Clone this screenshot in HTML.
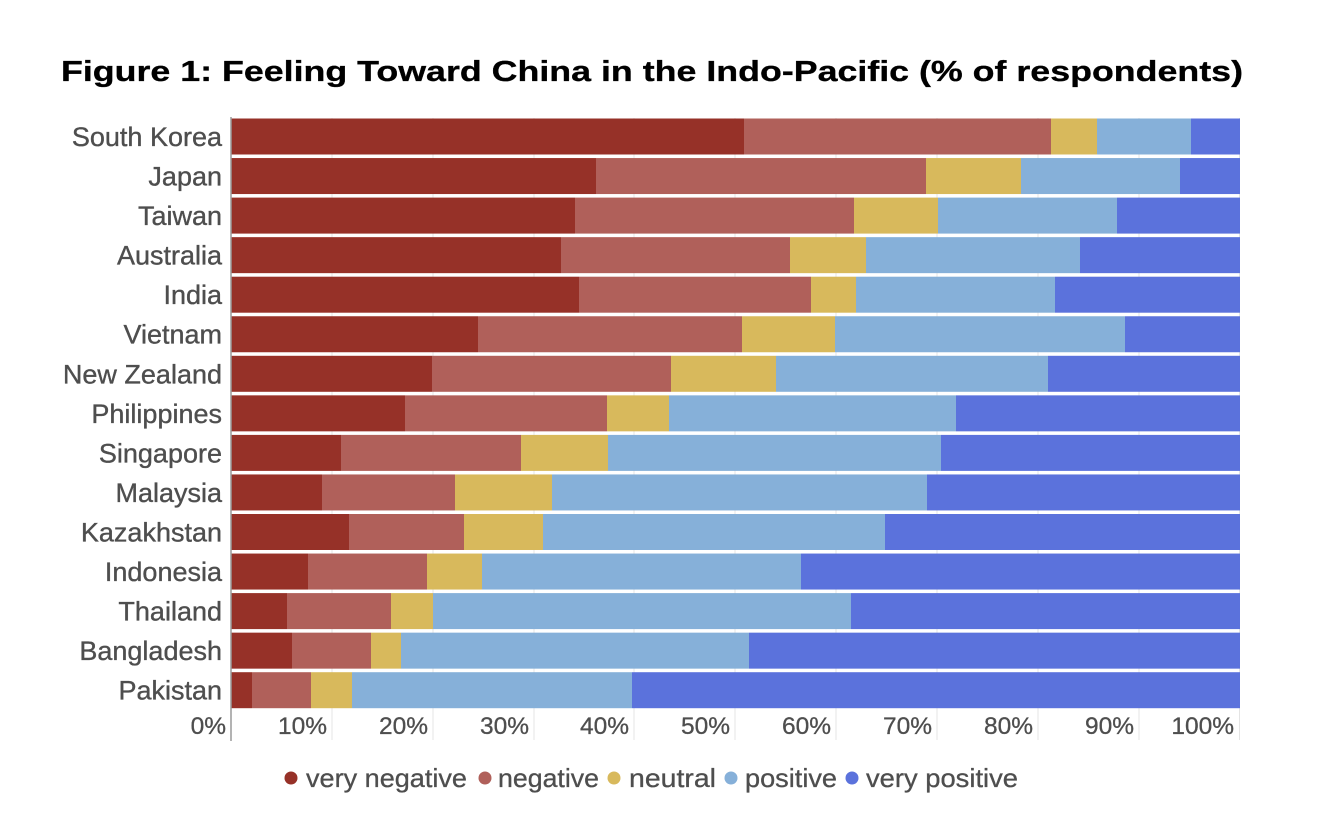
<!DOCTYPE html>
<html>
<head>
<meta charset="utf-8">
<style>
html,body{margin:0;padding:0;background:#fff;}
svg{display:block;}
text{font-family:"Liberation Sans",Arial,sans-serif;}
</style>
</head>
<body>
<svg width="1322" height="815" viewBox="0 0 1322 815" xmlns="http://www.w3.org/2000/svg">
<rect x="0" y="0" width="1322" height="815" fill="#fff"/>
<text x="61" y="81" font-size="28.5" font-weight="bold" fill="#000" stroke="#000" stroke-width="0.3" textLength="1182" lengthAdjust="spacingAndGlyphs">Figure 1: Feeling Toward China in the Indo-Pacific (% of respondents)</text>

<!-- gridlines -->
<g stroke="#e4e4e4" stroke-width="1">
<line x1="332" y1="118" x2="332" y2="740"/>
<line x1="433" y1="118" x2="433" y2="740"/>
<line x1="534" y1="118" x2="534" y2="740"/>
<line x1="634" y1="118" x2="634" y2="740"/>
<line x1="735" y1="118" x2="735" y2="740"/>
<line x1="836" y1="118" x2="836" y2="740"/>
<line x1="937" y1="118" x2="937" y2="740"/>
<line x1="1038" y1="118" x2="1038" y2="740"/>
<line x1="1139" y1="118" x2="1139" y2="740"/>
<line x1="1239.5" y1="118" x2="1239.5" y2="740"/>
</g>

<!-- bars -->
<g>
<!-- South Korea -->
<rect x="231" y="118.5" width="513" height="36" fill="#963128"/>
<rect x="744" y="118.5" width="307" height="36" fill="#b0605a"/>
<rect x="1051" y="118.5" width="46" height="36" fill="#d8b95c"/>
<rect x="1097" y="118.5" width="94" height="36" fill="#86b0d9"/>
<rect x="1191" y="118.5" width="49" height="36" fill="#5b72dc"/>
<!-- Japan -->
<rect x="231" y="158.05" width="365" height="36" fill="#963128"/>
<rect x="596" y="158.05" width="330" height="36" fill="#b0605a"/>
<rect x="926" y="158.05" width="95" height="36" fill="#d8b95c"/>
<rect x="1021" y="158.05" width="159" height="36" fill="#86b0d9"/>
<rect x="1180" y="158.05" width="60" height="36" fill="#5b72dc"/>
<!-- Taiwan -->
<rect x="231" y="197.6" width="344" height="36" fill="#963128"/>
<rect x="575" y="197.6" width="279" height="36" fill="#b0605a"/>
<rect x="854" y="197.6" width="84" height="36" fill="#d8b95c"/>
<rect x="938" y="197.6" width="179" height="36" fill="#86b0d9"/>
<rect x="1117" y="197.6" width="123" height="36" fill="#5b72dc"/>
<!-- Australia -->
<rect x="231" y="237.15" width="330" height="36" fill="#963128"/>
<rect x="561" y="237.15" width="229" height="36" fill="#b0605a"/>
<rect x="790" y="237.15" width="76" height="36" fill="#d8b95c"/>
<rect x="866" y="237.15" width="214" height="36" fill="#86b0d9"/>
<rect x="1080" y="237.15" width="160" height="36" fill="#5b72dc"/>
<!-- India -->
<rect x="231" y="276.7" width="348" height="36" fill="#963128"/>
<rect x="579" y="276.7" width="232" height="36" fill="#b0605a"/>
<rect x="811" y="276.7" width="45" height="36" fill="#d8b95c"/>
<rect x="856" y="276.7" width="199" height="36" fill="#86b0d9"/>
<rect x="1055" y="276.7" width="185" height="36" fill="#5b72dc"/>
<!-- Vietnam -->
<rect x="231" y="316.25" width="247" height="36" fill="#963128"/>
<rect x="478" y="316.25" width="264" height="36" fill="#b0605a"/>
<rect x="742" y="316.25" width="93" height="36" fill="#d8b95c"/>
<rect x="835" y="316.25" width="290" height="36" fill="#86b0d9"/>
<rect x="1125" y="316.25" width="115" height="36" fill="#5b72dc"/>
<!-- New Zealand -->
<rect x="231" y="355.8" width="201" height="36" fill="#963128"/>
<rect x="432" y="355.8" width="239" height="36" fill="#b0605a"/>
<rect x="671" y="355.8" width="105" height="36" fill="#d8b95c"/>
<rect x="776" y="355.8" width="272" height="36" fill="#86b0d9"/>
<rect x="1048" y="355.8" width="192" height="36" fill="#5b72dc"/>
<!-- Philippines -->
<rect x="231" y="395.35" width="174" height="36" fill="#963128"/>
<rect x="405" y="395.35" width="202" height="36" fill="#b0605a"/>
<rect x="607" y="395.35" width="62" height="36" fill="#d8b95c"/>
<rect x="669" y="395.35" width="287" height="36" fill="#86b0d9"/>
<rect x="956" y="395.35" width="284" height="36" fill="#5b72dc"/>
<!-- Singapore -->
<rect x="231" y="434.9" width="110" height="36" fill="#963128"/>
<rect x="341" y="434.9" width="180" height="36" fill="#b0605a"/>
<rect x="521" y="434.9" width="87" height="36" fill="#d8b95c"/>
<rect x="608" y="434.9" width="333" height="36" fill="#86b0d9"/>
<rect x="941" y="434.9" width="299" height="36" fill="#5b72dc"/>
<!-- Malaysia -->
<rect x="231" y="474.45" width="91" height="36" fill="#963128"/>
<rect x="322" y="474.45" width="133" height="36" fill="#b0605a"/>
<rect x="455" y="474.45" width="97" height="36" fill="#d8b95c"/>
<rect x="552" y="474.45" width="375" height="36" fill="#86b0d9"/>
<rect x="927" y="474.45" width="313" height="36" fill="#5b72dc"/>
<!-- Kazakhstan -->
<rect x="231" y="514" width="118" height="36" fill="#963128"/>
<rect x="349" y="514" width="115" height="36" fill="#b0605a"/>
<rect x="464" y="514" width="79" height="36" fill="#d8b95c"/>
<rect x="543" y="514" width="342" height="36" fill="#86b0d9"/>
<rect x="885" y="514" width="355" height="36" fill="#5b72dc"/>
<!-- Indonesia -->
<rect x="231" y="553.55" width="77" height="36" fill="#963128"/>
<rect x="308" y="553.55" width="119" height="36" fill="#b0605a"/>
<rect x="427" y="553.55" width="55" height="36" fill="#d8b95c"/>
<rect x="482" y="553.55" width="319" height="36" fill="#86b0d9"/>
<rect x="801" y="553.55" width="439" height="36" fill="#5b72dc"/>
<!-- Thailand -->
<rect x="231" y="593.1" width="56" height="36" fill="#963128"/>
<rect x="287" y="593.1" width="104" height="36" fill="#b0605a"/>
<rect x="391" y="593.1" width="42" height="36" fill="#d8b95c"/>
<rect x="433" y="593.1" width="418" height="36" fill="#86b0d9"/>
<rect x="851" y="593.1" width="389" height="36" fill="#5b72dc"/>
<!-- Bangladesh -->
<rect x="231" y="632.65" width="61" height="36" fill="#963128"/>
<rect x="292" y="632.65" width="79" height="36" fill="#b0605a"/>
<rect x="371" y="632.65" width="30" height="36" fill="#d8b95c"/>
<rect x="401" y="632.65" width="348" height="36" fill="#86b0d9"/>
<rect x="749" y="632.65" width="491" height="36" fill="#5b72dc"/>
<!-- Pakistan -->
<rect x="231" y="672.2" width="21" height="36" fill="#963128"/>
<rect x="252" y="672.2" width="59" height="36" fill="#b0605a"/>
<rect x="311" y="672.2" width="41" height="36" fill="#d8b95c"/>
<rect x="352" y="672.2" width="280" height="36" fill="#86b0d9"/>
<rect x="632" y="672.2" width="608" height="36" fill="#5b72dc"/>
</g>

<!-- axis -->
<line x1="231" y1="117" x2="231" y2="741" stroke="#9a9a9a" stroke-width="1.5"/>

<!-- country labels -->
<g font-size="27" fill="#4e4e4e" stroke="#4e4e4e" stroke-width="0.35" text-anchor="end">
<text x="222" y="146">South Korea</text>
<text x="222" y="185.5">Japan</text>
<text x="222" y="225.1">Taiwan</text>
<text x="222" y="264.6">Australia</text>
<text x="222" y="304.2">India</text>
<text x="222" y="343.7">Vietnam</text>
<text x="222" y="383.3">New Zealand</text>
<text x="222" y="422.8">Philippines</text>
<text x="222" y="462.4">Singapore</text>
<text x="222" y="501.9">Malaysia</text>
<text x="222" y="541.5">Kazakhstan</text>
<text x="222" y="581">Indonesia</text>
<text x="222" y="620.6">Thailand</text>
<text x="222" y="660.1">Bangladesh</text>
<text x="222" y="699.7">Pakistan</text>
</g>

<!-- tick labels -->
<g font-size="24.5" fill="#4e4e4e" stroke="#4e4e4e" stroke-width="0.3" text-anchor="end">
<text x="226" y="734">0%</text>
<text x="327" y="734">10%</text>
<text x="428" y="734">20%</text>
<text x="529" y="734">30%</text>
<text x="629" y="734">40%</text>
<text x="730" y="734">50%</text>
<text x="831" y="734">60%</text>
<text x="932" y="734">70%</text>
<text x="1033" y="734">80%</text>
<text x="1134" y="734">90%</text>
<text x="1234" y="734">100%</text>
</g>

<!-- legend -->
<g font-size="26" fill="#4e4e4e" stroke="#4e4e4e" stroke-width="0.3">
<circle cx="291" cy="778" r="6.5" fill="#963128" stroke="none"/>
<text x="306" y="787" textLength="161" lengthAdjust="spacingAndGlyphs">very negative</text>
<circle cx="485" cy="778" r="6.5" fill="#b0605a" stroke="none"/>
<text x="498" y="787" textLength="101" lengthAdjust="spacingAndGlyphs">negative</text>
<circle cx="614" cy="778" r="6.5" fill="#d8b95c" stroke="none"/>
<text x="629" y="787" textLength="87" lengthAdjust="spacingAndGlyphs">neutral</text>
<circle cx="731" cy="778" r="6.5" fill="#86b0d9" stroke="none"/>
<text x="745" y="787" textLength="92" lengthAdjust="spacingAndGlyphs">positive</text>
<circle cx="852" cy="778" r="6.5" fill="#5b72dc" stroke="none"/>
<text x="866" y="787" textLength="152" lengthAdjust="spacingAndGlyphs">very positive</text>
</g>
</svg>
</body>
</html>
